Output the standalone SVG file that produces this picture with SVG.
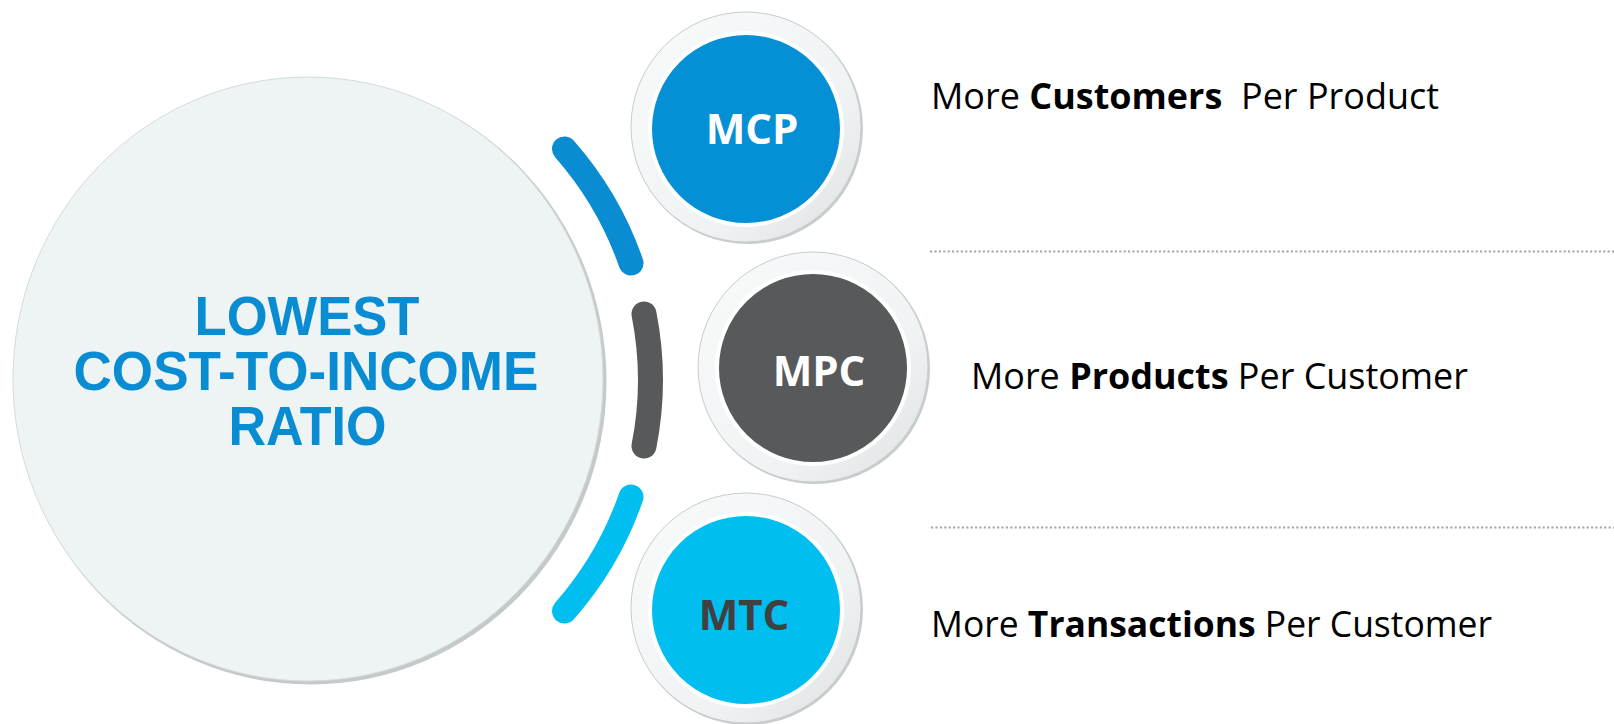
<svg xmlns="http://www.w3.org/2000/svg" width="1614" height="724" viewBox="0 0 1614 724">
<defs>
  <linearGradient id="ringGrad" x1="0" y1="0" x2="1" y2="1">
    <stop offset="0" stop-color="#f8fafa"/>
    <stop offset="0.65" stop-color="#f0f3f4"/>
    <stop offset="1" stop-color="#dde1e2"/>
  </linearGradient>
  <style>
    .ring { fill: url(#ringGrad); stroke: #c8cccd; stroke-width: 1; }
    .shadow { fill: #c9cdcf; }
    .inner { stroke: #ffffff; stroke-width: 4; }
    .ntext { font-family: "Open Sans", "DejaVu Sans", sans-serif; font-weight: 700; font-size: 42px; text-anchor: middle; }
    .rtext { font-family: "Open Sans", "DejaVu Sans", sans-serif; font-size: 36px; fill: #000000; white-space: pre; }
    .rtext .b { font-weight: 700; }
    .big { font-family: "Liberation Sans", Arial, sans-serif; font-weight: 700; font-size: 55px; fill: #0A8CD3; text-anchor: middle; }
    .arc { fill: none; stroke-width: 25; stroke-linecap: round; }
    .dots { stroke: #a6a6a6; stroke-width: 2.2; stroke-dasharray: 2.2 2.2; fill: none; }
  </style>
</defs>
<rect width="1614" height="724" fill="#ffffff"/>

<g id="center-node">
  <ellipse cx="310.5" cy="381.5" rx="296" ry="303" fill="#c4c9ca"/>
  <ellipse cx="308" cy="379" rx="295" ry="302" fill="#eef3f4" stroke="#d6dadb" stroke-width="1"/>
  <text class="big" x="307" y="335" textLength="225" lengthAdjust="spacingAndGlyphs">LOWEST</text>
  <text class="big" x="306" y="389.5" textLength="465" lengthAdjust="spacingAndGlyphs">COST-TO-INCOME</text>
  <text class="big" x="307.5" y="445" textLength="158" lengthAdjust="spacingAndGlyphs">RATIO</text>
</g>

<g id="connectors">
  <path class="arc" stroke="#0A8CD3" d="M 564.5 149 A 343 343 0 0 1 631 263"/>
  <path class="arc" stroke="#58595B" d="M 644 314 A 341 341 0 0 1 644 446"/>
  <path class="arc" stroke="#00BEF0" d="M 631 497 A 343 343 0 0 1 564.5 611"/>
</g>

<g id="node-mcp">
  <circle cx="747.5" cy="128.5" r="115.5" class="shadow"/>
  <circle cx="746" cy="127" r="115" class="ring"/>
  <circle cx="746" cy="129" r="96" class="inner" fill="#0590D5"/>
  <text class="ntext" x="752" y="143.5" fill="#ffffff">MCP</text>
</g>

<g id="node-mpc">
  <circle cx="814.5" cy="368.5" r="115.5" class="shadow"/>
  <circle cx="813" cy="367" r="115" class="ring"/>
  <circle cx="813" cy="368" r="96" class="inner" fill="#58595B"/>
  <text class="ntext" x="819" y="386" fill="#ffffff">MPC</text>
</g>

<g id="node-mtc">
  <circle cx="747.5" cy="609.5" r="115.5" class="shadow"/>
  <circle cx="746" cy="608" r="115" class="ring"/>
  <circle cx="746" cy="610" r="96" class="inner" fill="#00BEF0"/>
  <text class="ntext" x="744" y="629.5" fill="#404041">MTC</text>
</g>

<g id="labels">
  <text class="rtext" x="931" y="109" textLength="508" lengthAdjust="spacingAndGlyphs">More <tspan class="b">Customers</tspan>  Per Product</text>
  <text class="rtext" x="971" y="389" textLength="497" lengthAdjust="spacingAndGlyphs">More <tspan class="b">Products</tspan> Per Customer</text>
  <text class="rtext" x="931" y="637" textLength="561" lengthAdjust="spacingAndGlyphs">More <tspan class="b">Transactions</tspan> Per Customer</text>
</g>

<g id="dividers">
  <line class="dots" x1="930" y1="251.5" x2="1614" y2="251.5"/>
  <line class="dots" x1="931" y1="527.5" x2="1614" y2="527.5"/>
</g>
</svg>
